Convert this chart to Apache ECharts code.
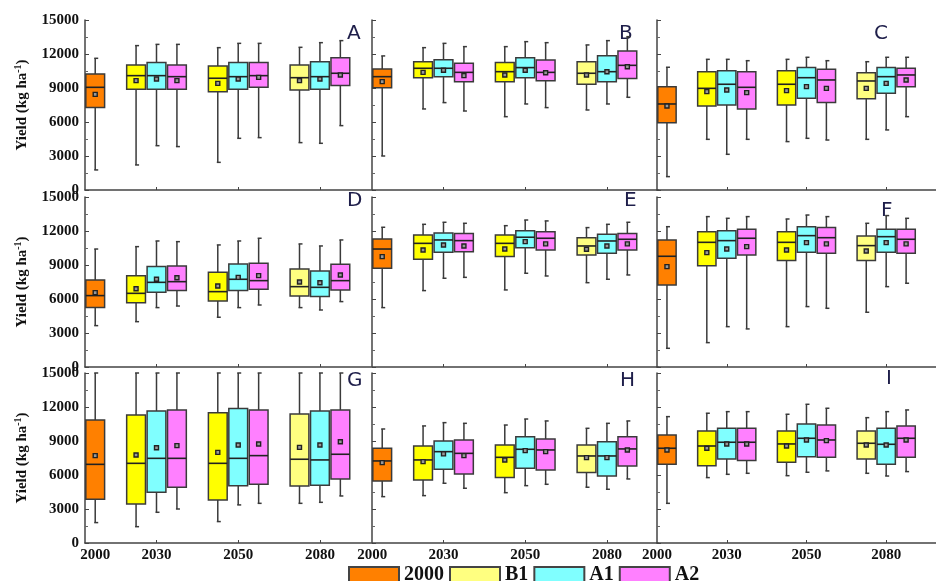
<!DOCTYPE html>
<html>

<head>
  <meta charset="UTF-8">
  <title>Yield box plots</title>
  <script src="https://cdn.jsdelivr.net/npm/echarts@6/dist/echarts.min.js"></script>
  <style>
    html, body { margin: 0; padding: 0; background: #fff; }
    #chart { width: 936px; height: 581px; }
  </style>
</head>

<body>
  <div id="chart"></div>
  <script>
    // tick labels / scenarios
    const yearLabels = ['2000', '2030', '2050', '2080'];
    const scenarios = ['2000', 'B1', 'A1', 'A2'];
    const panelLetters = ['A', 'B', 'C', 'D', 'E', 'F', 'G', 'H', 'I'];

    // box order in every panel: 2000, then B1/A1/A2 for 2030, 2050, 2080
    const boxScenario = ['2000', 'B1', 'A1', 'A2', 'B1', 'A1', 'A2', 'B1', 'A1', 'A2'];
    const boxYear = ['2000', '2030', '2030', '2030', '2050', '2050', '2050', '2080', '2080', '2080'];

    // each row: [min, q1, median, q3, max, mean]  (kg ha-1)
    const yieldA = [
      [1770, 7270, 9060, 10240, 11620, 8440],
      [2210, 8880, 10090, 11030, 12740, 9650],
      [3910, 8880, 10090, 11240, 12850, 9800],
      [3830, 8880, 10000, 11030, 12850, 9650],
      [2440, 8680, 9860, 10940, 12560, 9410],
      [4560, 8880, 10000, 11240, 12940, 9800],
      [4620, 9060, 10090, 11240, 12940, 9940],
      [4180, 8830, 9910, 11030, 12590, 9650],
      [4120, 8880, 10000, 11320, 13000, 9800],
      [5680, 9210, 10300, 11680, 13180, 10150]
    ];
    const yieldB = [
      [3000, 9030, 10000, 10680, 11830, 9560],
      [7150, 9910, 10740, 11320, 12560, 10380],
      [7710, 10000, 10740, 11500, 12940, 10560],
      [6970, 9560, 10380, 11180, 12650, 10090],
      [6470, 9560, 10440, 11240, 12650, 10150],
      [7590, 9910, 10800, 11680, 13090, 10560],
      [7270, 9650, 10380, 11470, 13000, 10350],
      [7060, 9330, 10300, 11320, 12800, 10150],
      [7590, 9560, 10440, 11850, 13180, 10440],
      [8180, 9830, 11000, 12270, 13530, 10880]
    ];
    const yieldC = [
      [1180, 5940, 7590, 9120, 10830, 7410],
      [4470, 7410, 8970, 10440, 11530, 8680],
      [3150, 7500, 9330, 10530, 11530, 8830],
      [4470, 7150, 9060, 10440, 11410, 8590],
      [4270, 7500, 9330, 10530, 11530, 8770],
      [4560, 8090, 9910, 10800, 11710, 9120],
      [4410, 7710, 9710, 10650, 11410, 8970],
      [4470, 8060, 9620, 10350, 11320, 8970],
      [5300, 8530, 10000, 10800, 11710, 9410],
      [6470, 9120, 10150, 10740, 11710, 9710]
    ];
    const yieldD = [
      [3650, 5240, 6300, 7680, 10410, 6560],
      [4000, 5680, 6500, 8060, 10620, 6910],
      [5240, 6590, 7470, 8860, 11120, 7740],
      [5380, 6740, 7530, 8910, 11060, 7880],
      [4390, 5830, 6650, 8360, 10770, 7150],
      [5240, 6740, 7740, 9090, 11120, 7910],
      [5470, 6860, 7620, 9150, 11360, 8060],
      [5240, 6270, 7090, 8650, 10860, 7500],
      [5030, 6210, 7030, 8470, 10680, 7440],
      [5770, 6800, 7620, 9060, 11210, 8120]
    ];
    const yieldE = [
      [5240, 8710, 10410, 11300, 12330, 9740],
      [6740, 9500, 10910, 11650, 12590, 10330],
      [7830, 10120, 11210, 11830, 12770, 10770],
      [7910, 10180, 11150, 11770, 12680, 10680],
      [6800, 9740, 10910, 11650, 12470, 10410],
      [8270, 10530, 11450, 12030, 12970, 11060],
      [8030, 10330, 11360, 11940, 12890, 10860],
      [7440, 9890, 10680, 11410, 12300, 10390],
      [7740, 10030, 11120, 11710, 12590, 10680],
      [8120, 10330, 11270, 11770, 12770, 10860]
    ];
    const yieldF = [
      [1650, 7240, 9770, 11210, 12380, 8860],
      [2150, 8940, 11000, 11940, 13270, 10090],
      [3560, 9590, 11150, 12030, 13120, 10410],
      [3360, 9890, 11360, 12150, 13270, 10620],
      [3560, 9390, 11000, 11940, 13060, 10330],
      [5330, 10120, 11590, 12380, 13410, 10970],
      [5180, 10030, 11410, 12300, 13270, 10860],
      [4830, 9390, 10710, 11560, 12680, 10240],
      [7090, 10120, 11500, 12150, 13360, 10970],
      [7390, 10030, 11270, 12150, 13120, 10860]
    ];
    const yieldG = [
      [1800, 3860, 6940, 10860, 15000, 7710],
      [1440, 3440, 7030, 11300, 15000, 7770],
      [2710, 4470, 7470, 11650, 15000, 8410],
      [3000, 4910, 7470, 11740, 15000, 8590],
      [1890, 3800, 7030, 11500, 15000, 8000],
      [3360, 5060, 7470, 11860, 15000, 8650],
      [3500, 5180, 7710, 11740, 15000, 8740],
      [3500, 5030, 7390, 11390, 15000, 8440],
      [3590, 5090, 7330, 11650, 15000, 8650],
      [4150, 5650, 7830, 11740, 15000, 8940]
    ];
    const yieldH = [
      [4090, 5470, 7240, 8360, 10060, 7090],
      [4180, 5560, 7330, 8560, 10330, 7180],
      [5270, 6500, 8060, 9000, 10620, 7860],
      [4830, 6090, 7910, 9090, 10560, 7710],
      [4440, 5770, 7560, 8650, 10410, 7330],
      [5060, 6590, 8270, 9380, 10940, 8150],
      [5180, 6440, 8210, 9180, 10770, 8060],
      [4920, 6210, 7680, 8650, 10120, 7530],
      [4740, 5910, 7680, 8940, 10560, 7530],
      [5650, 6800, 8300, 9380, 10770, 8210]
    ];
    const yieldI = [
      [3500, 6940, 8360, 9530, 11150, 8210],
      [5770, 6820, 8560, 9890, 11450, 8360],
      [6060, 7410, 8890, 10120, 11590, 8740],
      [6150, 7270, 8890, 10120, 11590, 8740],
      [5940, 7120, 8740, 9890, 11360, 8560],
      [6240, 7620, 9240, 10500, 12240, 9090],
      [6360, 7560, 9090, 10410, 11890, 9030],
      [6150, 7410, 8800, 9890, 11060, 8650],
      [5910, 6940, 8710, 10120, 11590, 8650],
      [6300, 7560, 9240, 10330, 11740, 9090]
    ];
    const panelData = [yieldA, yieldB, yieldC, yieldD, yieldE, yieldF, yieldG, yieldH, yieldI];

    // x axis: 14 equal slots, 2000 in the first, each year group of three
    // boxes with one empty slot between groups
    const slotCats = ['2000', 'g0', '2030B1', '2030', '2030A2', 'g1',
      '2050B1', '2050', '2050A2', 'g2', '2080B1', '2080', '2080A2', 'g3'];
    const slotOf = (year, sc) => {
      if (year === '2000') return '2000';
      if (sc === 'A1') return year;
      return year + sc;
    };

    const fillColors = { '2000': '#FF8000', 'B1': '#FFFF00', 'A1': '#80FFFF', 'A2': '#FF80FF' };
    const paleYellow = '#FFFF80';
    const lineColor = '#3a3a3a';
    const serif = '"Liberation Serif", "DejaVu Serif", serif';

    const chart = echarts.init(document.getElementById('chart'));

    function makeRender(fills) {
      return function (params, api) {
        const x = api.value(0);
        const lo = api.coord([x, api.value(1)]);
        const q1 = api.coord([x, api.value(2)]);
        const md = api.coord([x, api.value(3)]);
        const q3 = api.coord([x, api.value(4)]);
        const hi = api.coord([x, api.value(5)]);
        const mn = api.coord([x, api.value(6)]);
        const half = api.size([1, 0])[0] * 0.46;
        const cx = lo[0];
        const ln = { stroke: lineColor, lineWidth: 1.5 };
        return {
          type: 'group',
          children: [
            { type: 'line', shape: { x1: cx, y1: hi[1], x2: cx, y2: q3[1] }, style: ln },
            { type: 'line', shape: { x1: cx, y1: q1[1], x2: cx, y2: lo[1] }, style: ln },
            { type: 'line', shape: { x1: cx - 1, y1: hi[1], x2: cx + 3, y2: hi[1] }, style: ln },
            { type: 'line', shape: { x1: cx - 1, y1: lo[1], x2: cx + 3, y2: lo[1] }, style: ln },
            {
              type: 'rect',
              shape: { x: cx - half, y: q3[1], width: half * 2, height: q1[1] - q3[1] },
              style: { fill: fills[params.dataIndex], stroke: lineColor, lineWidth: 1.5 }
            },
            { type: 'line', shape: { x1: cx - half, y1: md[1], x2: cx + half, y2: md[1] }, style: { stroke: '#222', lineWidth: 1.6 } },
            {
              type: 'rect',
              shape: { x: cx - 2, y: mn[1] - 2, width: 4, height: 4 },
              style: { fill: '#999', stroke: '#222', lineWidth: 1.4 }
            }
          ]
        };
      };
    }

    const gridLefts = [85, 372, 657];
    const gridTops = [20, 197, 373];

    const grids = [], xAxes = [], yAxes = [], series = [], letters = [];
    const letterPos = [[355, 35], [627, 35], [882, 35], [355, 202], [632, 202], [889, 212], [355, 382], [628, 382], [894, 380]];

    panelData.forEach((rows, p) => {
      const col = p % 3, row = Math.floor(p / 3);
      grids.push({ left: gridLefts[col], top: gridTops[row], width: 286, height: 170 });
      xAxes.push({
        type: 'category',
        gridIndex: p,
        data: slotCats,
        boundaryGap: true,
        axisLine: { show: true, lineStyle: { color: '#444', width: 1.5 } },
        axisTick: {
          show: true, inside: true, length: 3, alignWithLabel: true,
          lineStyle: { color: '#444' },
          interval: (i, v) => ['2030', '2050', '2080'].includes(v)
        },
        axisLabel: {
          show: row === 2,
          interval: (i, v) => yearLabels.includes(v),
          margin: 5,
          fontFamily: serif, fontWeight: 'bold', fontSize: 15, color: '#111',
          formatter: v => (v === '2000' && col > 0) ? '{shift|2000}' : v,
          rich: { shift: { fontFamily: serif, fontWeight: 'bold', fontSize: 15, color: '#111', padding: [0, 20, 0, 0] } }
        },
        splitLine: { show: false }
      });
      yAxes.push({
        type: 'value',
        gridIndex: p,
        min: 0, max: 15000, interval: 3000,
        axisLine: { show: true, lineStyle: { color: '#444', width: 1.5 } },
        axisTick: { show: true, inside: true, length: 4, lineStyle: { color: '#444' } },
        minorTick: { show: true, splitNumber: 2, length: 3, lineStyle: { color: '#666' } },
        splitLine: { show: false },
        axisLabel: {
          show: col === 0, margin: 6,
          formatter: v => String(v),
          fontFamily: serif, fontWeight: 'bold', fontSize: 15, color: '#111'
        },
        name: col === 0 ? 'Yield (kg ha{sup|-1})' : '',
        nameLocation: 'middle',
        nameRotate: 90,
        nameGap: 54,
        nameTextStyle: {
          fontFamily: serif, fontWeight: 'bold', fontSize: 15, color: '#111',
          rich: { sup: { fontFamily: serif, fontWeight: 'bold', fontSize: 10, color: '#111', padding: [0, 0, 8, 0] } }
        }
      });

      scenarios.forEach(sc => {
        const items = [], fills = [];
        boxScenario.forEach((s, k) => {
          if (s !== sc) return;
          items.push([slotOf(boxYear[k], s)].concat(rows[k]));
          fills.push(s === 'B1' && boxYear[k] === '2080' ? paleYellow : fillColors[s]);
        });
        series.push({
          type: 'custom',
          name: sc,
          xAxisIndex: p,
          yAxisIndex: p,
          data: items,
          encode: { x: 0, y: [1, 2, 3, 4, 5, 6] },
          itemStyle: { color: sc === 'B1' ? paleYellow : fillColors[sc], borderColor: '#444', borderWidth: 1 },
          renderItem: makeRender(fills),
          silent: true
        });
      });

      letters.push({
        type: 'text',
        left: letterPos[p][0] - 8,
        top: letterPos[p][1] - 11,
        style: {
          text: panelLetters[p],
          font: '20px "DejaVu Sans", sans-serif',
          fill: '#1e1e4a'
        }
      });
    });

    chart.setOption({
      backgroundColor: '#fff',
      animation: false,
      grid: grids,
      xAxis: xAxes,
      yAxis: yAxes,
      series: series,
      graphic: letters,
      legend: {
        data: scenarios,
        left: 348,
        top: 565,
        padding: 0,
        icon: 'rect',
        itemWidth: 50,
        itemHeight: 16,
        itemGap: 5,
        selectedMode: false,
        textStyle: { fontFamily: serif, fontWeight: 'bold', fontSize: 20, color: '#111' }
      }
    });
  </script>
</body>

</html>
